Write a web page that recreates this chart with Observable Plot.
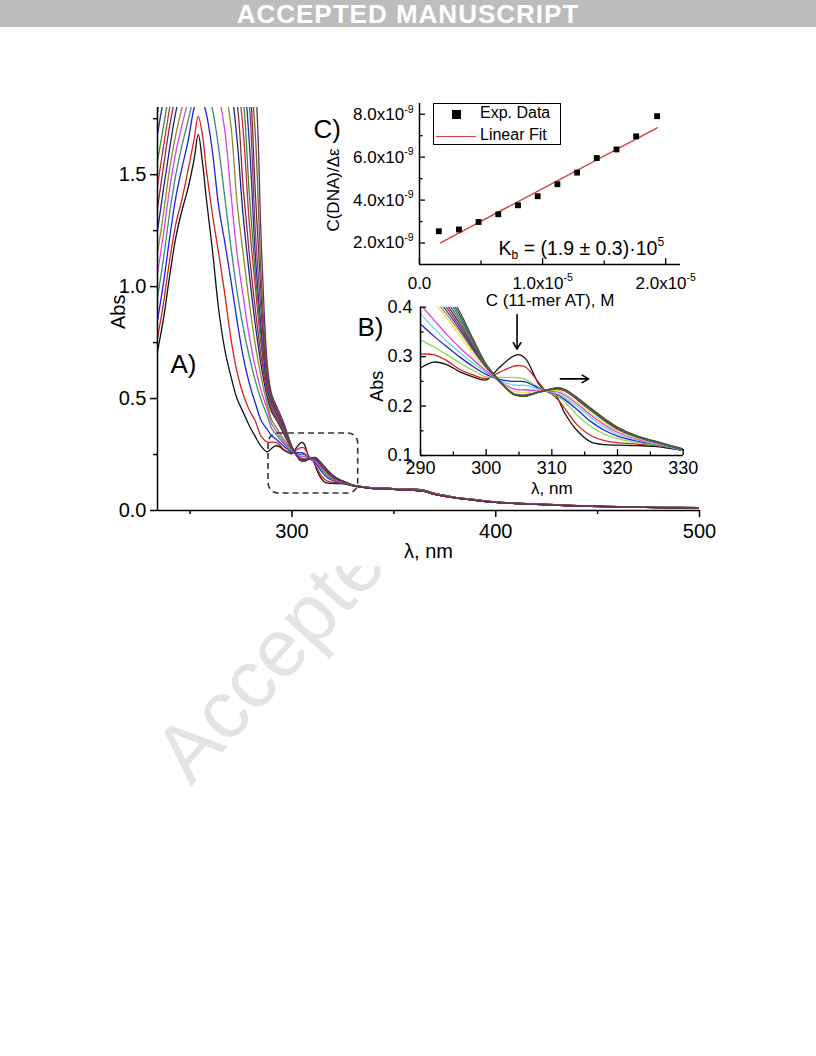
<!DOCTYPE html>
<html><head><meta charset="utf-8">
<script src="https://cdn.jsdelivr.net/npm/d3@7"></script>
<script src="https://cdn.jsdelivr.net/npm/@observablehq/plot@0.6"></script>
<style>
html,body{margin:0;padding:0;background:#fff;}
#page{position:relative;width:816px;height:1056px;overflow:hidden;font-family:"Liberation Sans",Arial,Helvetica,sans-serif;}
#bar{position:absolute;left:0;top:0;width:816px;height:27px;background:#bdbdbd;color:#fff;font-weight:bold;font-size:26px;line-height:28px;text-align:center;letter-spacing:1px;}
#wm{position:absolute;left:200px;top:715px;height:80px;line-height:80px;font-size:82px;color:#e4e4e4;transform-origin:0 100%;transform:rotate(-48deg);white-space:nowrap;}
.abs{position:absolute;}
#legC{position:absolute;left:433px;top:103px;width:126px;height:40px;border:1px solid #000;background:#fff;font-size:16px;color:#000;}
#legC div{position:absolute;white-space:nowrap;}
</style></head>
<body><div id="page">
<div id="wm">Accepted</div>
<div id="mainHost" class="abs" style="left:0;top:0"></div>
<div id="bar">ACCEPTED MANUSCRIPT</div>
<div id="bHost" class="abs" style="left:340px;top:290px"></div>
<div id="cHost" class="abs" style="left:300px;top:85px"></div>
<div id="legC">
  <div style="left:18px;top:6px;width:9px;height:9px;background:#000"></div>
  <div style="left:46px;top:0px;">Exp. Data</div>
  <div style="left:2px;top:32px;width:40px;height:1.3px;background:#d84040"></div>
  <div style="left:46px;top:22px;">Linear Fit</div>
</div>
</div>
<script>
const FONT = '"Liberation Sans", Arial, Helvetica, sans-serif';

// ---------- Spectra (A and B) ----------
const wlUV = [234,237,240,243,246,249,252,254,256,258,261,264,267,270,273,276,279,282,285,288];
const wlB  = [290,292,294,296,298,300,302,304,305,306,308,309,310,311,312,314,316,318,320,323,326,330];
const wlTail = [335,340,345,350,355,360,365,370,380,390,400,420,440,460,480,500];

const uv01 = [0.71,0.86,1.05,1.22,1.34,1.44,1.57,1.68,1.56,1.39,1.16,0.90,0.72,0.60,0.50,0.44,0.38,0.33,0.285,0.262];
const uv02 = [0.77,0.93,1.12,1.28,1.39,1.52,1.66,1.76,1.68,1.52,1.32,1.15,0.97,0.77,0.62,0.52,0.45,0.40,0.33,0.305];
const uv03 = [0.85,1.02,1.22,1.40,1.53,1.65,1.80,1.85,1.83,1.77,1.60,1.36,1.20,1.03,0.85,0.69,0.57,0.48,0.40,0.36];
const uv04 = [0.95,1.13,1.33,1.50,1.63,1.74,1.86,1.92,1.92,1.88,1.79,1.62,1.40,1.18,0.98,0.82,0.69,0.58,0.49,0.42];
const uv05 = [1.06,1.24,1.44,1.60,1.72,1.83,1.95,2.00,2.00,1.97,1.92,1.85,1.70,1.42,1.15,0.96,0.78,0.64,0.53,0.45];
const uv06 = [1.15,1.33,1.53,1.68,1.80,1.92,2.00,2.05,2.05,2.02,1.98,1.93,1.88,1.72,1.38,1.15,0.93,0.74,0.59,0.47];
const uv07 = [1.25,1.44,1.62,1.78,1.90,2.00,2.10,2.12,2.12,2.10,2.05,2.00,1.95,1.88,1.66,1.32,1.06,0.83,0.64,0.50];
const uv08 = [1.35,1.54,1.72,1.86,1.98,2.08,2.16,2.20,2.20,2.18,2.12,2.06,2.00,1.93,1.82,1.45,1.15,0.90,0.68,0.52];
const uv09 = [1.45,1.63,1.80,1.95,2.05,2.15,2.22,2.25,2.25,2.22,2.17,2.10,2.04,1.98,1.92,1.70,1.29,1.00,0.73,0.53];
const uv10 = [1.56,1.72,1.88,2.03,2.12,2.20,2.27,2.30,2.30,2.28,2.23,2.17,2.10,2.04,1.98,1.84,1.42,1.06,0.76,0.54];
const uv11 = [1.68,1.84,1.98,2.10,2.20,2.27,2.33,2.36,2.36,2.34,2.30,2.24,2.17,2.10,2.04,1.95,1.65,1.14,0.80,0.55];
const uv12 = [1.78,1.93,2.05,2.16,2.25,2.32,2.38,2.40,2.40,2.38,2.34,2.29,2.22,2.15,2.09,2.01,1.82,1.25,0.87,0.56];
const uv13 = [1.90,2.02,2.13,2.22,2.30,2.37,2.42,2.44,2.44,2.42,2.38,2.33,2.27,2.20,2.14,2.06,1.93,1.42,0.94,0.58];
const uv14 = [2.00,2.10,2.20,2.28,2.35,2.41,2.46,2.48,2.48,2.46,2.42,2.37,2.31,2.25,2.19,2.12,2.00,1.68,1.02,0.61];
const uv15 = [2.10,2.19,2.27,2.34,2.40,2.45,2.50,2.52,2.52,2.50,2.46,2.41,2.36,2.30,2.24,2.17,2.06,1.90,1.18,0.64];

const b01 = [0.277,0.289,0.284,0.269,0.259,0.253,0.278,0.300,0.304,0.296,0.245,0.232,0.232,0.213,0.185,0.148,0.127,0.122,0.121,0.120,0.118,0.110];
const b02 = [0.305,0.304,0.292,0.274,0.263,0.256,0.268,0.280,0.282,0.279,0.248,0.231,0.224,0.212,0.195,0.160,0.140,0.130,0.126,0.123,0.120,0.111];
const b03 = [0.334,0.320,0.304,0.287,0.272,0.259,0.258,0.258,0.257,0.254,0.238,0.231,0.226,0.219,0.208,0.180,0.158,0.143,0.134,0.126,0.121,0.111];
const b04 = [0.366,0.342,0.320,0.299,0.280,0.264,0.254,0.250,0.250,0.249,0.236,0.231,0.227,0.222,0.213,0.191,0.168,0.151,0.139,0.129,0.122,0.111];
const b05 = [0.387,0.358,0.331,0.308,0.287,0.268,0.252,0.243,0.242,0.242,0.234,0.231,0.228,0.224,0.217,0.198,0.176,0.157,0.143,0.131,0.123,0.111];
const b06 = [0.405,0.375,0.345,0.318,0.294,0.271,0.250,0.236,0.233,0.233,0.231,0.231,0.230,0.228,0.222,0.203,0.181,0.162,0.147,0.133,0.124,0.112];
const b07 = [0.440,0.410,0.378,0.342,0.306,0.276,0.250,0.231,0.228,0.228,0.230,0.231,0.232,0.231,0.225,0.206,0.185,0.166,0.150,0.135,0.125,0.112];
const b08 = [0.450,0.418,0.385,0.350,0.312,0.278,0.250,0.227,0.223,0.223,0.228,0.231,0.233,0.234,0.230,0.211,0.190,0.170,0.153,0.137,0.126,0.112];
const b09 = [0.460,0.426,0.392,0.355,0.315,0.279,0.250,0.226,0.222,0.222,0.228,0.231,0.234,0.235,0.231,0.212,0.191,0.171,0.154,0.137,0.126,0.112];
const b10 = [0.470,0.434,0.399,0.360,0.318,0.280,0.250,0.226,0.222,0.222,0.228,0.231,0.234,0.235,0.231,0.213,0.192,0.172,0.155,0.138,0.127,0.112];
const b11 = [0.480,0.442,0.406,0.366,0.321,0.281,0.251,0.225,0.221,0.221,0.228,0.231,0.234,0.236,0.232,0.214,0.193,0.173,0.155,0.138,0.127,0.112];
const b12 = [0.490,0.450,0.413,0.372,0.325,0.282,0.251,0.225,0.221,0.221,0.228,0.231,0.235,0.236,0.232,0.214,0.193,0.173,0.156,0.138,0.127,0.112];
const b13 = [0.500,0.458,0.420,0.378,0.328,0.283,0.251,0.225,0.221,0.221,0.228,0.231,0.235,0.236,0.233,0.215,0.194,0.174,0.156,0.139,0.127,0.112];
const b14 = [0.510,0.466,0.427,0.384,0.332,0.284,0.252,0.225,0.221,0.221,0.228,0.232,0.235,0.237,0.233,0.215,0.194,0.174,0.157,0.139,0.128,0.113];
const b15 = [0.520,0.475,0.434,0.390,0.336,0.285,0.252,0.225,0.220,0.220,0.228,0.232,0.235,0.237,0.234,0.216,0.195,0.175,0.157,0.139,0.128,0.113];

const tailA = [0.103,0.098,0.097,0.094,0.091,0.090,0.085,0.072,0.056,0.045,0.036,0.027,0.020,0.016,0.013,0.012];
const tailB = [0.106,0.101,0.101,0.098,0.095,0.095,0.090,0.076,0.059,0.048,0.038,0.029,0.022,0.017,0.014,0.013];

const mainColors  = ["#111111","#d82020","#2020e0","#3a8a80","#e040e0","#8c8c20","#20208a","#8a2a40","#c03030","#3a8a3a","#2a2a9a","#8a3a8a","#7a2a2a","#6a6a2a","#6a2a6a"];
const insetColors = ["#111111","#d82020","#88dd44","#2424d0","#66d8ee","#e040e0","#e8e050","#a0a040","#3a3a9a","#8a2a8a","#7a2a2a","#3a8a3a","#3a7a7a","#4a4ab0","#505a20"];

// axes / layout values for panel A
const xMain = [234, 500], yMain = [0, 1.8];
const xTicksMain = [300, 400, 500], xMinorMain = [250, 350, 450];
const yTicksMain = [0, 0.5, 1.0, 1.5], yMinorMain = [0.25, 0.75, 1.25, 1.75];
const zoomBox = [{x1: 288.5, x2: 332.5, y1: 0.076, y2: 0.344}];

// panel B
const xB = [290, 330], yB = [0.1, 0.4];
const xTicksB = [290, 300, 310, 320, 330], xMinorB = [295, 305, 315, 325];
const yTicksB = [0.1, 0.2, 0.3, 0.4], yMinorB = [0.15, 0.25, 0.35];
const arrowsB = [{x1: 304.7, y1: 0.385, x2: 304.7, y2: 0.315}, {x1: 311.3, y1: 0.255, x2: 315.6, y2: 0.255}];

// panel C
const cDna   = [0.157e-5,0.32e-5,0.48e-5,0.64e-5,0.80e-5,0.96e-5,1.12e-5,1.28e-5,1.44e-5,1.60e-5,1.76e-5,1.93e-5];
const cRatio = [2.55e-9,2.63e-9,2.98e-9,3.34e-9,3.76e-9,4.18e-9,4.74e-9,5.28e-9,5.96e-9,6.36e-9,6.97e-9,7.91e-9];
const fitX = [0.17e-5, 1.93e-5], fitY = [2.01e-9, 7.37e-9];
const xC = [0, 2.12e-5], yC = [1.0e-9, 8.5e-9];
const xTicksC = [0, 1e-5, 2e-5], xMinorC = [0.5e-5, 1.5e-5];
const yTicksC = [2e-9, 4e-9, 6e-9, 8e-9], yMinorC = [3e-9, 5e-9, 7e-9];

// ---------- build tables ----------
const uvSets = [uv01,uv02,uv03,uv04,uv05,uv06,uv07,uv08,uv09,uv10,uv11,uv12,uv13,uv14,uv15];
const bSets  = [b01,b02,b03,b04,b05,b06,b07,b08,b09,b10,b11,b12,b13,b14,b15];
const wlAll = [...wlUV, ...wlB, ...wlTail];
const spectra = uvSets.map((uv, i) => {
  const a = [...uv, ...bSets[i], ...(i % 2 === 0 ? tailA : tailB)];
  return wlAll.map((w, j) => ({wl: w, a: a[j]}));
});
const insetSpectra = bSets.map(b => wlB.map((w, j) => ({wl: w, a: b[j]})));
const cData = cDna.map((x, i) => ({x, y: cRatio[i]}));
const fitData = fitX.map((x, i) => ({x, y: fitY[i]}));

// inward tick helpers (pixel length converted to data units of the panel)
function inwardTicks(xd, yd, fw, fh, xt, xm, yt, ym) {
  const lx = px => (yd[1] - yd[0]) * px / fh;
  const ly = px => (xd[1] - xd[0]) * px / fw;
  const s = {stroke: "#000", strokeWidth: 1.3};
  return [
    Plot.ruleX(xt, {y1: yd[0], y2: yd[0] + lx(6), ...s}),
    Plot.ruleX(xm, {y1: yd[0], y2: yd[0] + lx(3.5), ...s}),
    Plot.ruleY(yt, {x1: xd[0], x2: xd[0] + ly(6), ...s}),
    Plot.ruleY(ym, {x1: xd[0], x2: xd[0] + ly(3.5), ...s})
  ];
}

// ---------- Panel A ----------
const AW = 816, AH = 566, AML = 157, AMR = 117, AMT = 107, AMB = 56;
const mainPlot = Plot.plot({
  width: AW, height: AH, marginLeft: AML, marginRight: AMR, marginTop: AMT, marginBottom: AMB,
  style: {fontFamily: FONT, fontSize: "20px", color: "#000", background: "#fff"},
  x: {domain: xMain}, y: {domain: yMain},
  marks: [
    ...spectra.map((s, i) => Plot.line(s, {x: "wl", y: "a", stroke: mainColors[i], strokeWidth: 1.3, curve: "catmull-rom", clip: true})),
    Plot.rect(zoomBox, {x1: "x1", x2: "x2", y1: "y1", y2: "y2", rx: 10, fill: "none", stroke: "#333", strokeWidth: 1.6, strokeDasharray: "6,4"}),
    Plot.ruleY([yMain[0]], {stroke: "#000", strokeWidth: 1.5}),
    Plot.ruleX([xMain[0]], {stroke: "#000", strokeWidth: 1.5}),
    Plot.axisX(xTicksMain, {tickSize: 7, tickPadding: 6, strokeWidth: 1.5, tickFormat: d => String(d), label: null}),
    Plot.axisX(xMinorMain, {tickSize: 4, strokeWidth: 1.5, tickFormat: () => "", label: null}),
    Plot.axisY(yTicksMain, {tickSize: 7, tickPadding: 4, strokeWidth: 1.5, tickFormat: d3.format(".1f"), label: null}),
    Plot.axisY(yMinorMain, {tickSize: 4, strokeWidth: 1.5, tickFormat: () => "", label: null}),
    Plot.text(["Abs."], {frameAnchor: "left", dx: -39, rotate: -90, fontSize: 20, textAnchor: "middle", lineAnchor: "middle"}),
    Plot.text(["λ, nm"], {frameAnchor: "bottom", dy: 41, fontSize: 20, textAnchor: "middle", lineAnchor: "middle"}),
    Plot.text(["A)"], {frameAnchor: "top-left", dx: 13, dy: 265, fontSize: 26, textAnchor: "start", lineAnchor: "bottom"})
  ]
});
document.getElementById("mainHost").appendChild(mainPlot);

// ---------- Panel B ----------
const BW = 360, BH = 210, BML = 80, BMR = 17.3, BMT = 16.7, BMB = 45;
const BFW = BW - BML - BMR, BFH = BH - BMT - BMB;
const bPlot = Plot.plot({
  width: BW, height: BH, marginLeft: BML, marginRight: BMR, marginTop: BMT, marginBottom: BMB,
  style: {fontFamily: FONT, fontSize: "18px", color: "#000", background: "transparent", overflow: "visible"},
  x: {domain: xB}, y: {domain: yB},
  marks: [
    ...insetSpectra.map((s, i) => Plot.line(s, {x: "wl", y: "a", stroke: insetColors[i], strokeWidth: 1.3, curve: "catmull-rom", clip: true})),
    Plot.ruleY([yB[0]], {stroke: "#000", strokeWidth: 1.5}),
    Plot.ruleX([xB[0]], {stroke: "#000", strokeWidth: 1.5}),
    ...inwardTicks(xB, yB, BFW, BFH, xTicksB, xMinorB, yTicksB, yMinorB),
    Plot.axisX(xTicksB, {tickSize: 0, tickPadding: 6, tickFormat: d => String(d), label: null}),
    Plot.axisY(yTicksB, {tickSize: 0, tickPadding: 8, tickFormat: d3.format(".1f"), label: null}),
    Plot.arrow(arrowsB, {x1: "x1", y1: "y1", x2: "x2", y2: "y2", stroke: "#000", strokeWidth: 1.6, headLength: 7}),
    Plot.text(["B)"], {frameAnchor: "top-left", dx: -63, dy: 29, fontSize: 26, textAnchor: "start", lineAnchor: "bottom"}),
    Plot.text(["Abs"], {frameAnchor: "left", dx: -43, dy: 5, rotate: -90, fontSize: 18, textAnchor: "middle", lineAnchor: "middle"}),
    Plot.text(["λ, nm"], {frameAnchor: "bottom", dy: 33, fontSize: 17, textAnchor: "middle", lineAnchor: "middle"})
  ]
});
document.getElementById("bHost").appendChild(bPlot);

// ---------- Panel C ----------
const CW = 400, CH = 230, CML = 119, CMR = 20, CMT = 18, CMB = 51;
const CFW = CW - CML - CMR, CFH = CH - CMT - CMB;
const fmtCx = d => d === 0 ? "0.0" : (d * 1e5).toFixed(1) + "x10^{-5}";
const fmtCy = d => (d * 1e9).toFixed(1) + "x10^{-9}";
const cPlot = Plot.plot({
  width: CW, height: CH, marginLeft: CML, marginRight: CMR, marginTop: CMT, marginBottom: CMB,
  style: {fontFamily: FONT, fontSize: "17px", color: "#000", background: "transparent", overflow: "visible"},
  x: {domain: xC}, y: {domain: yC},
  marks: [
    Plot.line(fitData, {x: "x", y: "y", stroke: "#d84040", strokeWidth: 1.4}),
    Plot.dot(cData, {x: "x", y: "y", symbol: "square", r: 3.3, fill: "#000", stroke: "none"}),
    Plot.ruleY([yC[0]], {stroke: "#000", strokeWidth: 1.5}),
    Plot.ruleX([xC[0]], {stroke: "#000", strokeWidth: 1.5}),
    ...inwardTicks(xC, yC, CFW, CFH, xTicksC, xMinorC, yTicksC, yMinorC),
    Plot.axisX(xTicksC, {tickSize: 0, tickPadding: 12, tickFormat: fmtCx, label: null}),
    Plot.axisY(yTicksC, {tickSize: 0, tickPadding: 6, tickFormat: fmtCy, label: null}),
    Plot.text(["C(DNA)/Δε"], {frameAnchor: "left", dx: -86, dy: 6, rotate: -90, fontSize: 17, textAnchor: "middle", lineAnchor: "middle"}),
    Plot.text(["C (11-mer AT), M"], {frameAnchor: "bottom", dy: 36, fontSize: 17, textAnchor: "middle", lineAnchor: "middle"}),
    Plot.text(["C)"], {frameAnchor: "top-left", dx: -106, dy: 34, fontSize: 26, textAnchor: "start", lineAnchor: "bottom"}),
    Plot.text(["K_{b} = (1.9 ± 0.3)·10^{5}"], {frameAnchor: "bottom-left", dx: 79, dy: -10, fontSize: 19.5, textAnchor: "start", lineAnchor: "bottom"})
  ]
});
document.getElementById("cHost").appendChild(cPlot);

// ---------- superscript / subscript rendering ----------
function richify(svg) {
  const NS = "http://www.w3.org/2000/svg";
  svg.querySelectorAll("text").forEach(t => {
    const hasTspan = t.querySelector("tspan");
    const targets = hasTspan ? [...t.querySelectorAll("tspan")] : [t];
    targets.forEach(el => {
      const s = el.textContent;
      if (!/[\^_]\{/.test(s)) return;
      const fs = parseFloat(getComputedStyle(el).fontSize) || 16;
      const small = fs * 0.62;
      el.textContent = "";
      let cur = 0;
      const add = (txt, size, off) => {
        const sp = document.createElementNS(NS, "tspan");
        sp.textContent = txt;
        if (size) sp.setAttribute("font-size", size);
        if (off !== cur) { sp.setAttribute("dy", off - cur); cur = off; }
        el.appendChild(sp);
      };
      const re = /([\^_])\{([^}]*)\}/g;
      let last = 0, m;
      while ((m = re.exec(s))) {
        if (m.index > last) add(s.slice(last, m.index), null, 0);
        add(m[2], small, m[1] === "^" ? -fs * 0.42 : fs * 0.25);
        last = re.lastIndex;
      }
      if (last < s.length) add(s.slice(last), null, 0);
    });
  });
}
[mainPlot, bPlot, cPlot].forEach(richify);
</script>
</body></html>
